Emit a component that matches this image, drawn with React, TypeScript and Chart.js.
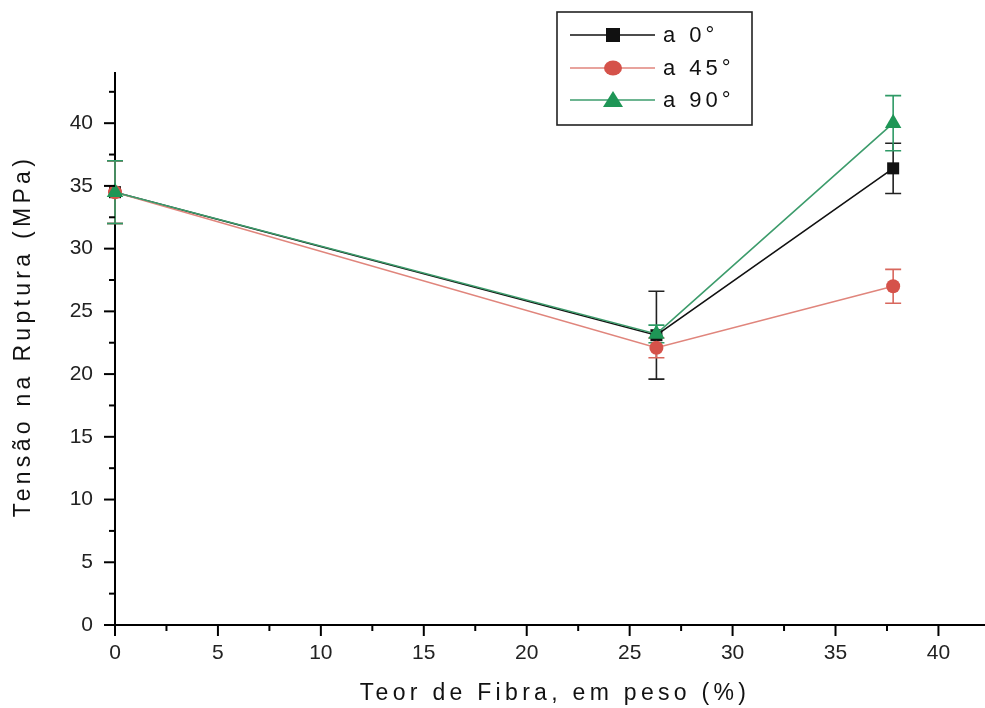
import React, { useEffect, useRef } from "react";
import { Chart, registerables } from "chart.js";

Chart.register(...registerables);

const fiberContent = [0, 26.3, 37.8];
const seriesNames = ["a 0°", "a 45°", "a 90°"];
const stress0 = [34.5, 23.1, 36.4];
const stress45 = [34.5, 22.1, 27.0];
const stress90 = [34.5, 23.2, 40.0];
const err0 = [2.5, 3.5, 2.0];
const err45 = [2.5, 0.8, 1.35];
const err90 = [2.5, 0.7, 2.2];
const xTickValues = [0, 2.5, 5, 7.5, 10, 12.5, 15, 17.5, 20, 22.5, 25, 27.5, 30, 32.5, 35, 37.5, 40];
const yTickValues = [0, 2.5, 5, 7.5, 10, 12.5, 15, 17.5, 20, 22.5, 25, 27.5, 30, 32.5, 35, 37.5, 40, 42.5];
const xTitle = "Teor de Fibra, em peso (%)";
const yTitle = "Tensão na Ruptura (MPa)";

const lineColors = ["#111111", "#e0857c", "#3d9c6c"];
const markerColors = ["#111111", "#d5524a", "#1e9656"];
const errColors = ["#222222", "#d8675d", "#2f9a66"];
const pointStyles = ["rect", "circle", "triangle"];
const pointRadii = [8.5, 7, 9.5];

const FONT = "'Liberation Sans', Arial, sans-serif";

export default function App() {
  const ref = useRef<HTMLCanvasElement>(null);
  useEffect(() => {
    document.body.style.margin = "0";
    const canvas = ref.current!;
    const values = [stress0, stress45, stress90];
    const errs = [err0, err45, err90];

    const errorBars = {
      id: "errorBars",
      beforeDatasetsDraw(chart: any) {
        const ctx = chart.ctx;
        const xs = chart.scales.x;
        const ys = chart.scales.y;
        ctx.save();
        for (let i = 0; i < values.length; i++) {
          ctx.strokeStyle = errColors[i];
          ctx.lineWidth = 1.6;
          for (let j = 0; j < fiberContent.length; j++) {
            const x = xs.getPixelForValue(fiberContent[j]);
            const yt = ys.getPixelForValue(values[i][j] + errs[i][j]);
            const yb = ys.getPixelForValue(values[i][j] - errs[i][j]);
            ctx.beginPath();
            ctx.moveTo(x, yt);
            ctx.lineTo(x, yb);
            ctx.moveTo(x - 8, yt);
            ctx.lineTo(x + 8, yt);
            ctx.moveTo(x - 8, yb);
            ctx.lineTo(x + 8, yb);
            ctx.stroke();
          }
        }
        ctx.restore();
      },
    };

    const decorations = {
      id: "decorations",
      afterDraw(chart: any) {
        const ctx = chart.ctx;
        const xs = chart.scales.x;
        const ys = chart.scales.y;
        const area = chart.chartArea;
        ctx.save();
        ctx.strokeStyle = "#000";
        ctx.lineWidth = 2;
        // extend the x axis line to the right edge
        ctx.beginPath();
        ctx.moveTo(area.right - 1, area.bottom);
        ctx.lineTo(chart.width, area.bottom);
        ctx.stroke();
        for (const t of xs.ticks) {
          const x = xs.getPixelForValue(t.value);
          const len = Math.abs(t.value % 5) < 1e-6 ? 11 : 6;
          ctx.beginPath();
          ctx.moveTo(x, area.bottom);
          ctx.lineTo(x, area.bottom + len);
          ctx.stroke();
        }
        for (const t of ys.ticks) {
          const y = ys.getPixelForValue(t.value);
          const len = Math.abs(t.value % 5) < 1e-6 ? 11 : 6;
          ctx.beginPath();
          ctx.moveTo(area.left, y);
          ctx.lineTo(area.left - len, y);
          ctx.stroke();
        }
        ctx.fillStyle = "#111";
        ctx.font = `23px ${FONT}`;
        (ctx as any).letterSpacing = "4.3px";
        ctx.textAlign = "center";
        ctx.textBaseline = "middle";
        ctx.fillText(xTitle, 555, 694);
        ctx.save();
        ctx.translate(24, 336);
        ctx.rotate(-Math.PI / 2);
        ctx.fillText(yTitle, 0, 0);
        ctx.restore();
        ctx.lineWidth = 1.6;
        ctx.strokeStyle = "#222";
        ctx.strokeRect(557, 12, 195, 113);
        const rows = [35, 68, 100];
        ctx.font = `22px ${FONT}`;
        (ctx as any).letterSpacing = "4px";
        ctx.textAlign = "left";
        for (let i = 0; i < seriesNames.length; i++) {
          const y = rows[i];
          ctx.strokeStyle = lineColors[i];
          ctx.lineWidth = 1.6;
          ctx.beginPath();
          ctx.moveTo(570, y);
          ctx.lineTo(655, y);
          ctx.stroke();
          ctx.fillStyle = markerColors[i];
          const mx = 613;
          if (i === 0) {
            ctx.fillRect(mx - 7, y - 7, 14, 14);
          } else if (i === 1) {
            ctx.beginPath();
            ctx.ellipse(mx, y, 9, 7.5, 0, 0, Math.PI * 2);
            ctx.fill();
          } else {
            ctx.beginPath();
            ctx.moveTo(mx, y - 9);
            ctx.lineTo(mx + 10, y + 7);
            ctx.lineTo(mx - 10, y + 7);
            ctx.closePath();
            ctx.fill();
          }
          ctx.fillStyle = "#111";
          ctx.fillText(seriesNames[i], 663, y + 1);
        }
        ctx.restore();
      },
    };

    const label5 = (v: any) => (Math.abs(v % 5) < 1e-6 ? String(v) : "");

    const chart = new Chart(canvas, {
      type: "line",
      data: {
        datasets: values.map((vals, i) => ({
          label: seriesNames[i],
          data: vals.map((v, j) => ({ x: fiberContent[j], y: v })),
          borderColor: lineColors[i],
          backgroundColor: markerColors[i],
          pointBackgroundColor: markerColors[i],
          pointBorderColor: markerColors[i],
          pointBorderWidth: 0,
          pointStyle: pointStyles[i] as any,
          pointRadius: pointRadii[i],
          borderWidth: 1.6,
          tension: 0,
          clip: false as any,
          order: 2 - i,
        })),
      },
      options: {
        responsive: false,
        animation: false,
        layout: { padding: { top: 73, right: 0, bottom: 0, left: 0 } },
        plugins: { legend: { display: false }, tooltip: { enabled: false } },
        scales: {
          x: {
            type: "linear",
            min: 0,
            max: 41.8,
            grid: { drawOnChartArea: false, drawTicks: false },
            border: { display: true, color: "#000", width: 2 },
            afterBuildTicks: (s: any) => {
              s.ticks = xTickValues.map((v) => ({ value: v }));
            },
            afterFit: (s: any) => {
              s.height = 83;
            },
            ticks: {
              autoSkip: false,
              maxRotation: 0,
              padding: 16,
              color: "#222",
              font: { family: FONT, size: 21 },
              callback: label5,
            },
          },
          y: {
            type: "linear",
            min: 0,
            max: 44,
            grid: { drawOnChartArea: false, drawTicks: false },
            border: { display: true, color: "#000", width: 2 },
            afterBuildTicks: (s: any) => {
              s.ticks = yTickValues.map((v) => ({ value: v }));
            },
            afterFit: (s: any) => {
              s.width = 115;
            },
            ticks: {
              autoSkip: false,
              padding: 22,
              color: "#222",
              font: { family: FONT, size: 21 },
              callback: label5,
            },
          },
        },
      },
      plugins: [errorBars, decorations],
    });
    return () => chart.destroy();
  }, []);
  return (
    <div style={{ width: 985, height: 708, background: "#fff" }}>
      <canvas ref={ref} width={985} height={708} />
    </div>
  );
}
